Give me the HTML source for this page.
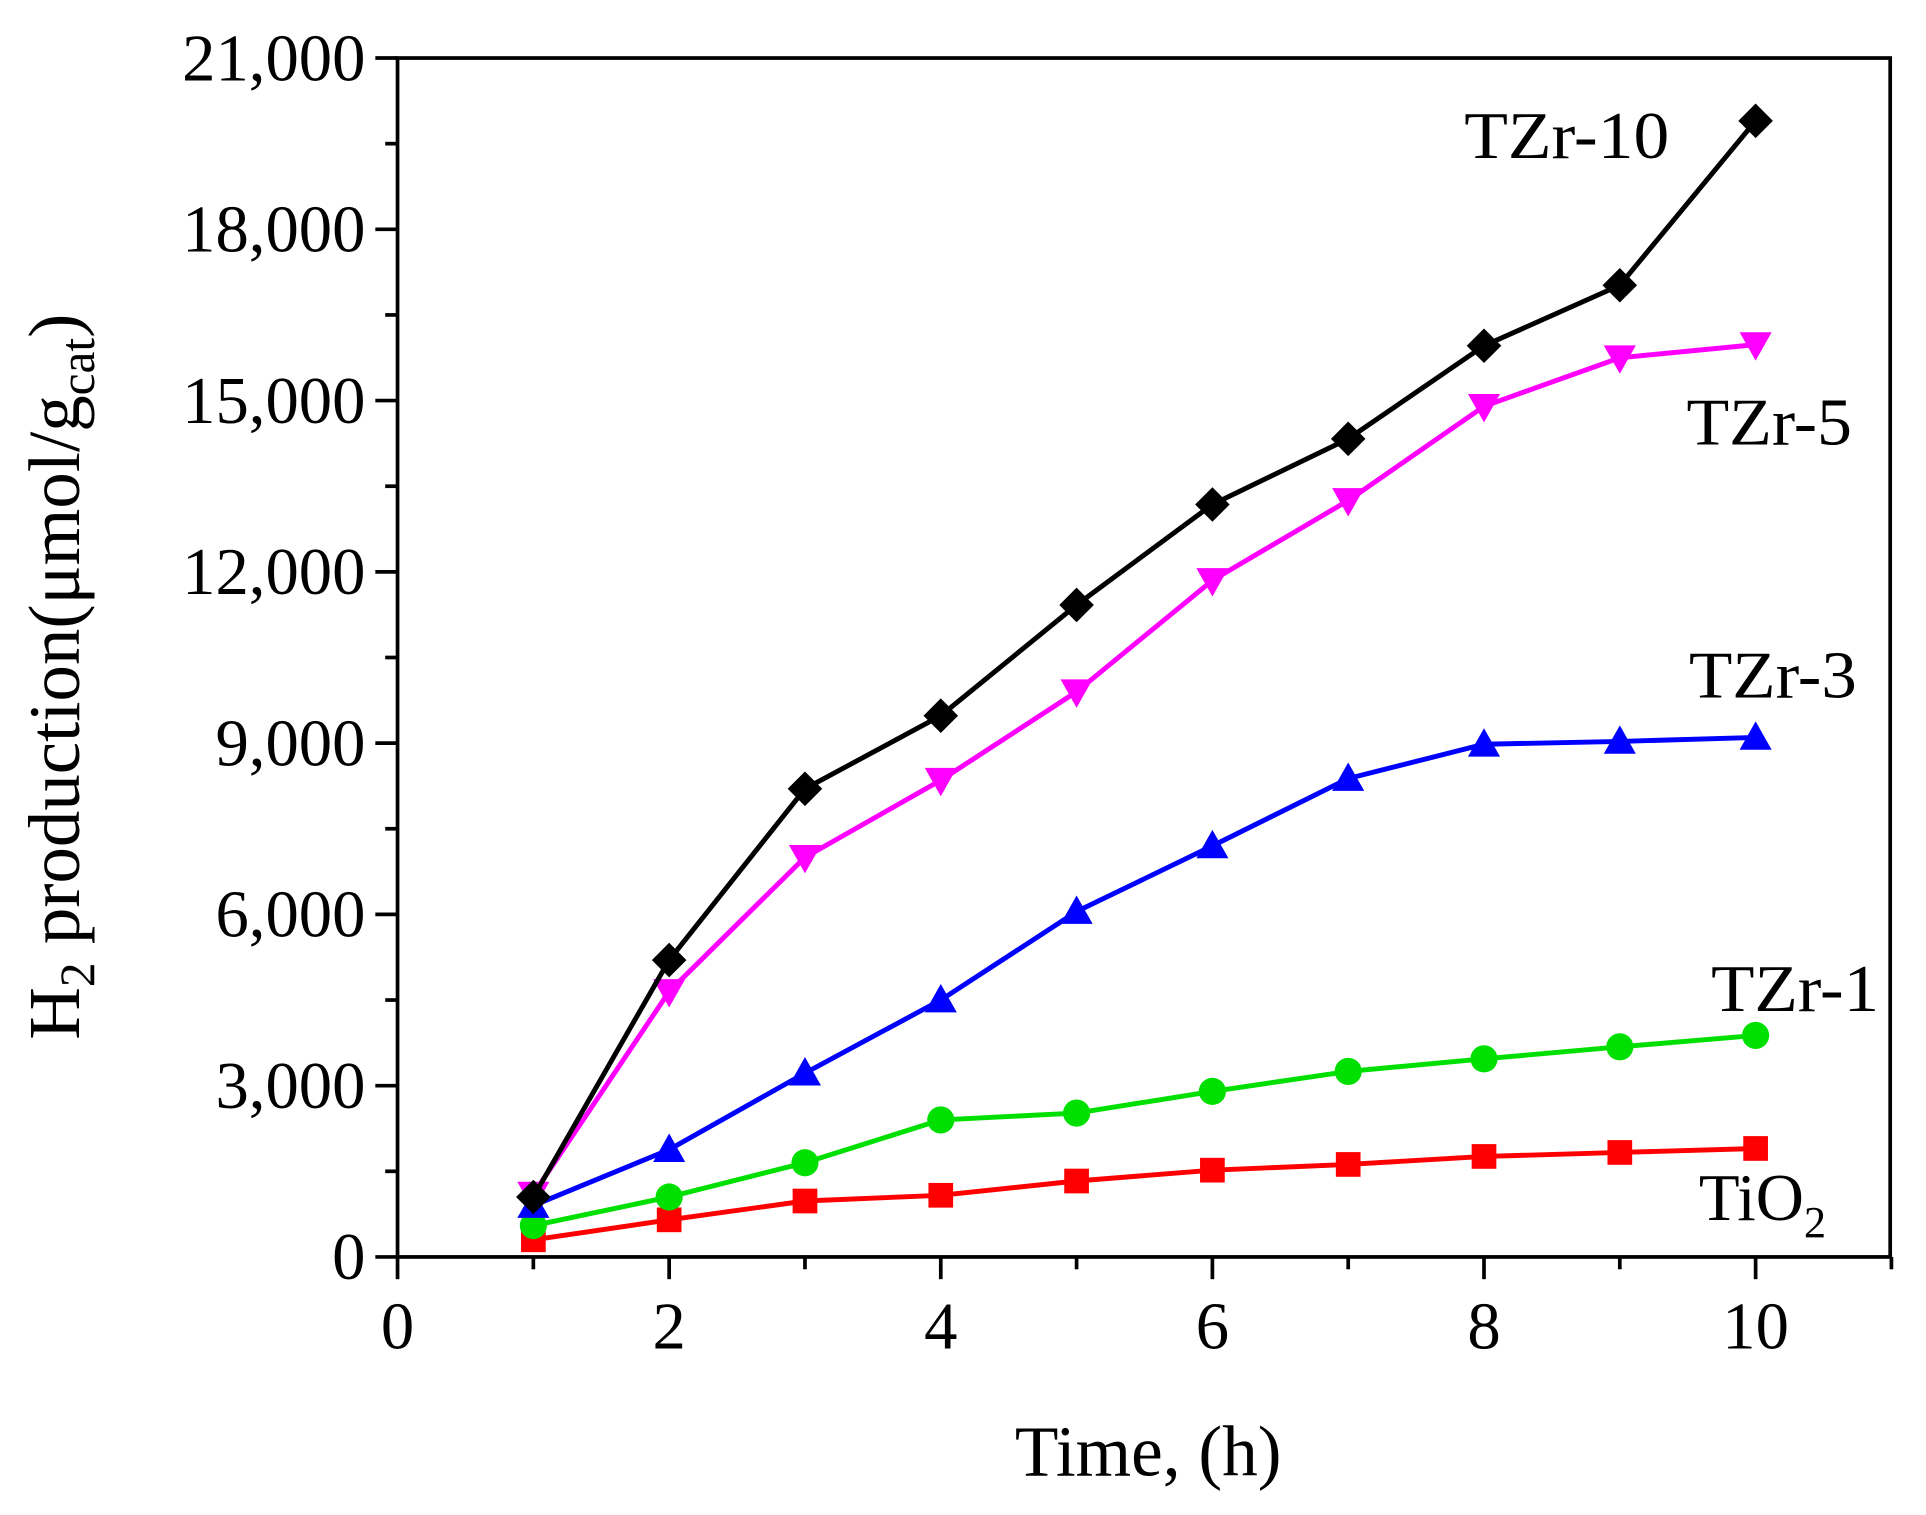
<!DOCTYPE html>
<html><head><style>body{margin:0;background:#fff}svg{display:block}</style></head>
<body>
<svg id="s" width="1926" height="1515" viewBox="0 0 1560 1227" preserveAspectRatio="none" xmlns="http://www.w3.org/2000/svg" font-family="Liberation Serif, serif">
<rect width="1560" height="1227" fill="#fff"/>
<g id="g"></g>
<rect x="322" y="47" width="1209" height="971" fill="none" stroke="#000" stroke-width="3"/>
<text x="1186" y="128" font-size="54" textLength="166" lengthAdjust="spacingAndGlyphs">TZr-10</text>
<text x="1366" y="360" font-size="54" textLength="134" lengthAdjust="spacingAndGlyphs">TZr-5</text>
<text x="1368" y="565" font-size="54" textLength="136" lengthAdjust="spacingAndGlyphs">TZr-3</text>
<text x="1386" y="819" font-size="54" textLength="136" lengthAdjust="spacingAndGlyphs">TZr-1</text>
<text x="1376" y="988" font-size="54">TiO<tspan font-size="36" dy="14">2</tspan></text>
<text x="930" y="1195" font-size="58" text-anchor="middle" textLength="216" lengthAdjust="spacingAndGlyphs">Time, (h)</text>
<text transform="translate(64,548) rotate(-90)" font-size="59" text-anchor="middle">H<tspan font-size="40" dy="12">2</tspan><tspan dy="-12"> production(μmol/g</tspan><tspan font-size="40" dy="12">cat</tspan><tspan dy="-12">)</tspan></text>
</svg>
<script>
const g=document.getElementById('g');let h='';
const X=v=>322+v*110.0, Y=v=>1018-v*971/21000;
for(let i=0;i<=21000;i+=1500){const y=Y(i);const maj=i%3000==0;h+=`<line x1="${322-(maj?18:10)}" x2="322" y1="${y}" y2="${y}" stroke="#000" stroke-width="3"/>`;
if(maj)h+=`<text x="296" y="${y+18}" font-size="54" text-anchor="end">${i.toLocaleString('en-US')}</text>`;}
for(let i=0;i<=11;i++){const x=X(i);const maj=i%2==0;h+=`<line x1="${x}" x2="${x}" y1="1018" y2="${1018+(maj?18:10)}" stroke="#000" stroke-width="3"/>`;
if(maj)h+=`<text x="${x}" y="1092" font-size="54" text-anchor="middle">${i}</text>`;}
const S=[
['#ff0000','sq',[300,650,980,1080,1330,1520,1620,1760,1830,1900]],
['#00e000','ci',[550,1050,1650,2400,2520,2900,3250,3470,3680,3880]],
['#0000ff','up',[900,1880,3220,4500,6050,7200,8380,8980,9030,9100]],
['#ff00ff','dn',[1100,4650,7000,8350,9900,11850,13250,14900,15750,15980]],
['#000000','di',[1050,5200,8200,9480,11420,13180,14330,15960,17020,19900]]];
for(const [c,m,d] of S){const p=d.map((v,i)=>[X(i+1),Y(v)]);
h+=`<polyline points="${p.map(q=>q.join(',')).join(' ')}" fill="none" stroke="${c}" stroke-width="4"/>`;
for(const [x,y] of p){
if(m=='sq')h+=`<rect x="${x-10}" y="${y-10}" width="20" height="20" fill="${c}"/>`;
if(m=='ci')h+=`<circle cx="${x}" cy="${y}" r="11" fill="${c}"/>`;
if(m=='up')h+=`<polygon points="${x},${y-13} ${x-13},${y+10} ${x+13},${y+10}" fill="${c}"/>`;
if(m=='dn')h+=`<polygon points="${x},${y+13} ${x-13},${y-10} ${x+13},${y-10}" fill="${c}"/>`;
if(m=='di')h+=`<polygon points="${x},${y-14} ${x+14},${y} ${x},${y+14} ${x-14},${y}" fill="${c}"/>`;}}
g.innerHTML=h;
</script>
</body></html>
